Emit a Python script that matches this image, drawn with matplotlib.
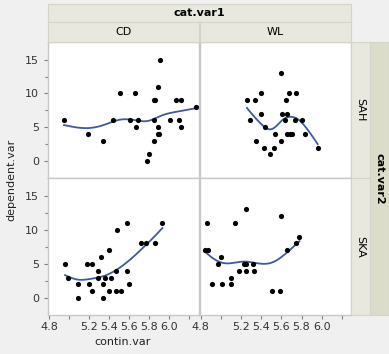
import matplotlib
matplotlib.use("Agg")
import matplotlib.pyplot as plt
import numpy as np

# contin.var / dependent.var for each cat.var1 x cat.var2 cell
cd_sah_x = [4.95, 5.19, 5.34, 5.44, 5.51, 5.61, 5.66, 5.67, 5.69, 5.78, 5.80, 5.85, 5.85,
            5.86, 5.85, 5.89, 5.89, 5.89, 5.91, 5.90, 6.01, 6.07, 6.12, 6.10, 6.12, 6.27]
cd_sah_y = [6, 4, 3, 6, 10, 6, 10, 5, 6, 0, 1, 3, 9, 9, 6, 11, 5, 4, 15, 4, 6, 9, 9, 6, 5, 8]

wl_sah_x = [5.26, 5.34, 5.40, 5.40, 5.29, 5.44, 5.35, 5.43, 5.49, 5.53, 5.54, 5.60, 5.60,
            5.61, 5.64, 5.65, 5.66, 5.66, 5.68, 5.69, 5.71, 5.74, 5.75, 5.80, 5.83, 5.96]
wl_sah_y = [9, 9, 10, 7, 6, 5, 3, 2, 1, 2, 4, 13, 3, 7, 6, 9, 7, 4, 10, 4, 4, 6, 10, 6, 4, 2]

cd_ska_x = [4.96, 4.99, 5.09, 5.09, 5.18, 5.23, 5.20, 5.23, 5.29, 5.29, 5.32, 5.34, 5.34, 5.36,
            5.40, 5.40, 5.42, 5.47, 5.47, 5.48, 5.52, 5.58, 5.58, 5.60, 5.72, 5.77, 5.86, 5.93]
cd_ska_y = [5, 3, 2, 0, 5, 5, 2, 1, 4, 3, 6, 2, 0, 3, 7, 1, 3, 4, 1, 10, 1, 11, 4, 2, 8, 8, 8, 11]

wl_ska_x = [4.86, 4.84, 4.87, 4.91, 4.97, 5.00, 5.01, 5.10, 5.10, 5.14, 5.18, 5.23, 5.25,
            5.25, 5.25, 5.32, 5.33, 5.51, 5.59, 5.60, 5.66, 5.75, 5.78]
wl_ska_y = [11, 7, 7, 2, 5, 6, 2, 2, 3, 11, 4, 5, 5, 4, 13, 5, 4, 1, 1, 12, 7, 8, 9]

col_labels = ["CD", "WL"]
row_labels = ["SAH", "SKA"]
x_ticks = [4.8, 5.0, 5.2, 5.4, 5.6, 5.8, 6.0, 6.2]
x_ticklabels = ["4.8", "", "5.2", "5.4", "5.6", "5.8", "6.0", ""]
y_ticks = [0, 5, 10, 15]

cells = {
    (0, 0): (cd_sah_x, cd_sah_y),
    (0, 1): (wl_sah_x, wl_sah_y),
    (1, 0): (cd_ska_x, cd_ska_y),
    (1, 1): (wl_ska_x, wl_ska_y),
}


def smoothing_spline(x, y, lam=0.2, n=200):
    # Reinsch cubic smoothing spline on standardized x, ties pooled with weights
    x = np.asarray(x, float)
    y = np.asarray(y, float)
    mu, sd = x.mean(), x.std()
    z = np.round((x - mu) / sd, 3)
    t, inv, w = np.unique(z, return_inverse=True, return_counts=True)
    ybar = np.bincount(inv, weights=y) / w
    m = len(t)
    h = np.diff(t)
    Q = np.zeros((m, m - 2))
    R = np.zeros((m - 2, m - 2))
    for j in range(m - 2):
        Q[j, j] = 1 / h[j]
        Q[j + 1, j] = -1 / h[j] - 1 / h[j + 1]
        Q[j + 2, j] = 1 / h[j + 1]
        R[j, j] = (h[j] + h[j + 1]) / 3
        if j < m - 3:
            R[j, j + 1] = R[j + 1, j] = h[j + 1] / 6
    K = Q @ np.linalg.solve(R, Q.T)
    W = np.diag(w.astype(float))
    g = np.linalg.solve(W + lam * K, W @ ybar)
    gam = np.zeros(m)
    gam[1:-1] = np.linalg.solve(R, Q.T @ g)
    zz = np.linspace(t[0], t[-1], n)
    i = np.clip(np.searchsorted(t, zz) - 1, 0, m - 2)
    a = zz - t[i]
    b = t[i + 1] - zz
    hh = h[i]
    f = (a * g[i + 1] + b * g[i]) / hh - a * b / 6 * ((1 + a / hh) * gam[i + 1] + (1 + b / hh) * gam[i])
    return zz * sd + mu, f


W_PX, H_PX = 389, 354
bg = "#f0f0f0"
band = "#e8e8de"
band_dark = "#dcdccb"
grid_col = "#c8c8c8"
line_col = "#3f5a9a"

plt.rcParams["font.family"] = ["DejaVu Sans"]
fig = plt.figure(figsize=(W_PX / 100, H_PX / 100), dpi=100, facecolor=bg)


def fx(px):
    return px / W_PX


def fy(py):
    return 1 - py / H_PX


col_x = [(48, 198.5), (199.5, 351)]
row_y = [(42, 178), (178, 315)]

for (r, c), (xs, ys) in cells.items():
    x0, x1 = col_x[c]
    y0, y1 = row_y[r]
    ax = fig.add_axes([fx(x0), fy(y1), fx(x1 - x0), (y1 - y0) / H_PX])
    ax.set_facecolor("white")
    ax.scatter(xs, ys, s=14, color="black", zorder=3, linewidths=0)
    sx, sy = smoothing_spline(xs, ys)
    ax.plot(sx, sy, color=line_col, lw=1.3, zorder=2)
    ax.set_xlim(4.79, 6.29)
    ax.set_ylim(-2.5, 17.6)
    for s in ax.spines.values():
        s.set_color(grid_col)
        s.set_linewidth(1.0)
    ax.tick_params(colors="#808080", labelcolor="#333333", labelsize=8, length=3, width=0.8)
    ax.set_yticks(y_ticks)
    ax.set_yticks([2.5, 7.5, 12.5], minor=True)
    ax.tick_params(which="minor", length=2, colors="#808080", width=0.8)
    ax.set_xticks(x_ticks)
    if c == 0:
        ax.set_yticklabels([str(v) for v in y_ticks])
    else:
        ax.tick_params(axis="y", which="both", left=False, labelleft=False)
    if r == 1:
        ax.set_xticklabels(x_ticklabels)
        ax.tick_params(axis="x", pad=2)
    else:
        ax.tick_params(axis="x", bottom=False, labelbottom=False)


# header bands
def band_axes(x0, y0, x1, y1, color):
    a = fig.add_axes([fx(x0), fy(y1), fx(x1 - x0), (y1 - y0) / H_PX])
    a.set_facecolor(color)
    a.set_xticks([])
    a.set_yticks([])
    for s in a.spines.values():
        s.set_color("#d4d4c8")
    return a


a = band_axes(48, 4, 351, 22, band)
a.text(0.5, 0.5, "cat.var1", ha="center", va="center", fontsize=8, fontweight="bold",
       transform=a.transAxes)
for c, lab in enumerate(col_labels):
    x0, x1 = col_x[c]
    a = band_axes(x0, 22, x1, 42, band)
    a.text(0.5, 0.5, lab, ha="center", va="center", fontsize=8, transform=a.transAxes)

for r, lab in enumerate(row_labels):
    y0, y1 = row_y[r]
    a = band_axes(351, y0, 370, y1, band)
    a.text(0.5, 0.5, lab, ha="center", va="center", fontsize=8, rotation=270,
           transform=a.transAxes)
a = band_axes(370, 42, 389, 315, band_dark)
a.text(0.5, 0.5, "cat.var2", ha="center", va="center", fontsize=8, rotation=270,
       fontweight="bold", transform=a.transAxes)

fig.text(fx(123), fy(342), "contin.var", ha="center", va="center", fontsize=8, color="#222222")
fig.text(fx(11), fy(180), "dependent.var", ha="center", va="center", fontsize=8,
         rotation=90, color="#222222")

plt.savefig("out.png", dpi=100, facecolor=bg)
